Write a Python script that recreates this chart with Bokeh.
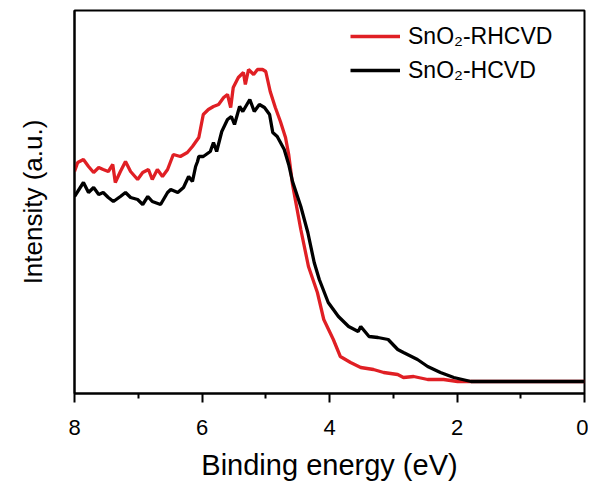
from bokeh.plotting import figure
from bokeh.models import Range1d, FixedTicker, Legend, LegendItem
from bokeh.embed import file_html
from bokeh.resources import INLINE

# Binding energy (eV) and intensity (a.u.)
red_x = [8.00, 7.95, 7.86, 7.78, 7.70, 7.62, 7.55, 7.47, 7.40, 7.36, 7.28, 7.20, 7.12, 7.01,
         6.93, 6.84, 6.78, 6.70, 6.62, 6.54, 6.45, 6.34, 6.23, 6.15, 6.05, 5.98, 5.90, 5.82,
         5.74, 5.66, 5.60, 5.55, 5.51, 5.43, 5.35, 5.32, 5.27, 5.19, 5.13, 5.05, 5.00, 4.93,
         4.85, 4.77, 4.69, 4.64, 4.58, 4.45, 4.33, 4.19, 4.09, 3.94, 3.83, 3.67, 3.51, 3.31,
         3.15, 2.93, 2.84, 2.68, 2.46, 2.21, 1.99, 1.50, 1.00, 0.50, 0.00]
red_y = [222, 231, 234, 227, 221, 226, 224, 222, 229, 211, 222, 232, 222, 214,
         221, 224, 214, 224, 217, 224, 239, 237, 241, 247, 256, 279, 284, 287,
         289, 296, 299, 286, 306, 316, 321, 309, 324, 319, 324, 324, 322, 302,
         286, 272, 256, 239, 209, 164, 127, 101, 74, 54, 37, 31, 26, 24,
         21, 19, 16, 17, 14, 14, 12, 12, 12, 12, 12]

black_x = [8.00, 7.86, 7.78, 7.70, 7.62, 7.55, 7.47, 7.39, 7.28, 7.20, 7.12, 7.01, 6.93, 6.85,
           6.78, 6.65, 6.54, 6.49, 6.38, 6.29, 6.21, 6.15, 6.10, 6.07, 6.05, 5.98, 5.87, 5.82,
           5.77, 5.69, 5.60, 5.54, 5.49, 5.41, 5.36, 5.25, 5.18, 5.10, 5.02, 4.94, 4.89, 4.82,
           4.71, 4.64, 4.58, 4.45, 4.34, 4.24, 4.16, 4.02, 3.86, 3.70, 3.55, 3.51, 3.38, 3.24,
           3.08, 2.93, 2.84, 2.62, 2.46, 2.26, 2.05, 1.78, 1.00, 0.50, 0.00]
black_y = [197, 211, 201, 206, 199, 201, 196, 192, 197, 201, 196, 194, 189, 197,
           192, 189, 201, 204, 201, 206, 217, 212, 227, 232, 237, 237, 242, 251,
           242, 262, 274, 277, 269, 287, 282, 294, 282, 289, 286, 279, 261, 257,
           244, 229, 212, 187, 161, 131, 114, 91, 77, 67, 62, 67, 57, 56,
           54, 44, 41, 34, 27, 21, 16, 12, 12, 12, 12]

major_ticks = [0, 2, 4, 6, 8]
minor_ticks = [1, 3, 5, 7]
labels = ["SnO\u2082-RHCVD", "SnO\u2082-HCVD"]

FONT = "Liberation Sans"

p = figure(frame_width=510, frame_height=383, output_backend="svg", toolbar_location=None,
           x_range=Range1d(8, 0), y_range=Range1d(0, 383),
           min_border_left=74, min_border_top=10, min_border_right=4, min_border_bottom=4)
p.xgrid.visible = False
p.ygrid.visible = False
p.outline_line_color = "black"
p.outline_line_width = 2

r1 = p.line(red_x, red_y, line_color="#e01f24", line_width=3.3)
r2 = p.line(black_x, black_y, line_color="black", line_width=3.3)

xa = p.xaxis[0]
xa.ticker = FixedTicker(ticks=major_ticks, minor_ticks=minor_ticks)
xa.axis_line_width = 2
xa.major_tick_line_width = 2
xa.minor_tick_line_width = 2
xa.major_tick_out = 9
xa.major_tick_in = 0
xa.minor_tick_out = 5
xa.minor_tick_in = 0
xa.major_label_text_font = FONT
xa.major_label_text_font_size = "22px"
xa.major_label_text_color = "black"
xa.major_label_standoff = 17
xa.axis_label = "Binding energy (eV)"
xa.axis_label_text_font = FONT
xa.axis_label_text_font_size = "29px"
xa.axis_label_text_font_style = "normal"
xa.axis_label_text_color = "black"
xa.axis_label_standoff = 11

ya = p.yaxis[0]
ya.ticker = FixedTicker(ticks=[])
ya.axis_line_width = 2
ya.major_tick_out = 0
ya.major_tick_in = 0
ya.minor_tick_out = 0
ya.minor_tick_in = 0
ya.axis_label = "Intensity (a.u.)"
ya.axis_label_text_font = FONT
ya.axis_label_text_font_size = "26px"
ya.axis_label_text_font_style = "normal"
ya.axis_label_text_color = "black"
ya.axis_label_standoff = 27

legend = Legend(items=[LegendItem(label=labels[0], renderers=[r1]),
                       LegendItem(label=labels[1], renderers=[r2])],
                location=(276, 308), padding=0, margin=0, spacing=4,
                glyph_width=50, glyph_height=30, label_height=30, label_standoff=8,
                label_text_font=FONT, label_text_font_size="23px", label_text_color="black",
                border_line_color=None, background_fill_alpha=0)
p.add_layout(legend, "center")

open("out.html", "w").write(file_html(p, INLINE))
